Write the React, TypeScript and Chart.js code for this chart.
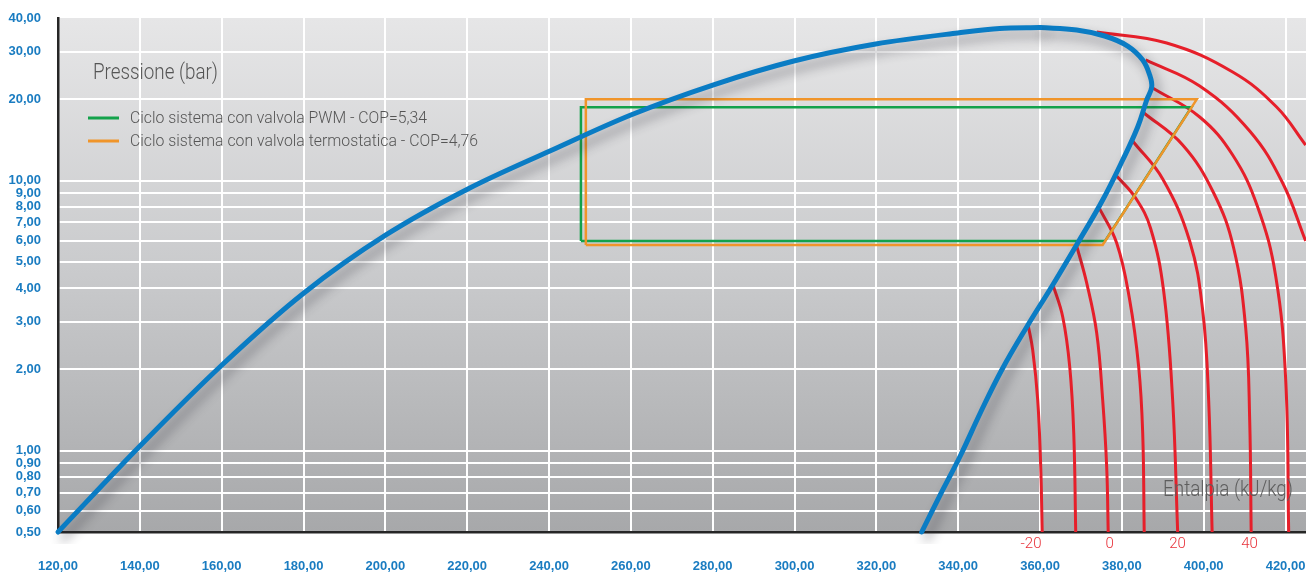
import React, { useEffect, useRef } from "react";
import { Chart, registerables } from "chart.js";

Chart.register(...registerables);

// ---------- data ----------
const xTicks = [120, 140, 160, 180, 200, 220, 240, 260, 280, 300, 320, 340, 360, 380, 400, 420];
const yTicks = [0.5, 0.6, 0.7, 0.8, 0.9, 1, 2, 3, 4, 5, 6, 7, 8, 9, 10, 20, 30, 40];

// saturation dome (enthalpy kJ/kg, pressure bar): liquid side up to the top
const liquidH = [120, 140.03, 160.07, 180.1, 200.14, 220.17, 240.21, 259.99, 280.03, 299.82, 319.85, 339.89, 350.15, 359.92];
const liquidP = [0.5, 1.041, 2.077, 3.837, 6.291, 9.31, 12.87, 17.5, 22.59, 27.73, 32.05, 35.2, 36.58, 36.89];
// from the top, round the right tip, down the vapour side
const vapourH = [359.92, 368.96, 375.8, 381.42, 385.09, 386.8, 387.29, 386.07, 383.87, 380.2, 375.31, 369.21, 363.1, 356.75, 350.64, 345.51, 340.62, 335.73, 331.09];
const vapourP = [36.89, 36.12, 34.31, 31.5, 27.97, 24.6, 22.21, 19.88, 15.79, 11.92, 8.478, 5.875, 4.108, 2.872, 1.99, 1.391, 0.9642, 0.6916, 0.5];

// cycle with PWM valve
const pwmLabel = "Ciclo sistema con valvola PWM - COP=5,34";
const pwmH = [247.8, 247.8, 397.0, 375.9, 247.8];
const pwmP = [5.98, 18.7, 18.7, 5.98, 5.98];

// cycle with thermostatic valve
const tevLabel = "Ciclo sistema con valvola termostatica - COP=4,76";
const tevH = [249.0, 249.0, 398.3, 375.3, 249.0];
const tevP = [5.78, 20.0, 20.0, 5.78, 5.78];

// isotherms (°C)
const isoTemps = [-20, -10, 0, 10, 20, 30, 40, 50, 60, 70];
const isoH = [
  [356.99, 358.21, 359.43, 360.17, 360.53],
  [363.1, 365.55, 367.26, 368.24, 368.72],
  [368.96, 371.4, 373.85, 375.31, 376.29, 376.66],
  [374.33, 378.73, 381.91, 384.11, 385.09, 385.46],
  [378.73, 383.37, 387.03, 390.21, 392.41, 393.64],
  [382.64, 389.98, 396.57, 399.74, 401.21, 402.06],
  [385.09, 394.86, 402.44, 407.32, 410.26, 411.24, 411.6],
  [387.53, 399.02, 407.08, 413.19, 417.59, 420.03, 420.77],
  [385.82, 399.02, 411.24, 419.3, 424.92],
  [373.85, 390.95, 407.08, 417.82, 424.92],
];
const isoP = [
  [2.971, 2.36, 1.541, 0.87, 0.5],
  [4.143, 3.127, 2.042, 1.163, 0.5],
  [5.727, 4.18, 2.729, 1.541, 0.87, 0.5],
  [7.99, 5.875, 3.614, 2.042, 1.163, 0.5],
  [10.4, 8.62, 6.65, 3.9, 1.541, 0.5],
  [14.02, 10.14, 5.976, 3.319, 1.541, 0.5],
  [17.95, 13.55, 9.0, 5.629, 2.847, 1.299, 0.5],
  [22.03, 17.2, 12.44, 7.99, 4.436, 1.843, 0.5],
  [27.97, 22.4, 15.27, 9.8, 5.976],
  [35.5, 32.32, 25.24, 18.73, 13.55],
];
const isoLabelText = ["-20", "0", "20", "40"];
const isoLabelH = [357.8, 377.0, 393.6, 411.2];

const yTitle = "Pressione (bar)";
const xTitle = "Entalpia (kJ/kg)";

// ---------- styles ----------
const BLUE = "#0a7cc4";
const RED = "#e61f2a";
const GREEN = "#13a24b";
const ORANGE = "#f0952a";
const TICK_BLUE = "#1a7cc1";
const TICK_FONT = "'Liberation Sans', Arial, sans-serif";
const TEXT_FONT = "Roboto, 'DejaVu Sans Condensed', sans-serif";

const zip = (hs: number[], ps: number[]) => hs.map((h, i) => ({ x: h, y: ps[i] }));
const fmt = (v: number) => v.toFixed(2).replace(".", ",");

function drawText(ctx: CanvasRenderingContext2D, text: string, x: number, y: number, targetW?: number, align: CanvasTextAlign = "left") {
  const w = ctx.measureText(text).width;
  const sx = targetW ? targetW / w : 1;
  ctx.save();
  ctx.translate(x, y);
  ctx.scale(sx, 1);
  ctx.textAlign = align;
  ctx.fillText(text, 0, 0);
  ctx.restore();
}

const bgPlugin = {
  id: "bg",
  beforeDraw(chart: any) {
    const { ctx, chartArea: a } = chart;
    const g = ctx.createLinearGradient(0, a.top, 0, a.bottom);
    g.addColorStop(0, "#e6e6e7");
    g.addColorStop(0.5, "#c9cacc");
    g.addColorStop(1, "#a7a8aa");
    ctx.save();
    ctx.fillStyle = g;
    ctx.fillRect(a.left, a.top, a.right - a.left, a.bottom - a.top);
    ctx.restore();
  },
};

const shadowPlugin = {
  id: "domeShadow",
  beforeDatasetDraw(chart: any, args: any) {
    if (args.index === 0 || args.index === 1) {
      const ctx = chart.ctx;
      ctx.save();
      ctx.shadowColor = "rgba(40,40,50,0.45)";
      ctx.shadowBlur = 11;
      ctx.shadowOffsetX = 5;
      ctx.shadowOffsetY = 7;
    }
  },
  afterDatasetDraw(chart: any, args: any) {
    if (args.index === 0 || args.index === 1) chart.ctx.restore();
  },
};

const textPlugin = {
  id: "texts",
  afterDatasetsDraw(chart: any) {
    const { ctx } = chart;
    const xs = chart.scales.x;
    ctx.save();
    ctx.textBaseline = "middle";
    ctx.fillStyle = "#555555";
    ctx.font = `300 22px ${TEXT_FONT}`;
    drawText(ctx, yTitle, 93, 73, 125);
    ctx.fillStyle = "#5e5e5e";
    ctx.font = `300 22px ${TEXT_FONT}`;
    drawText(ctx, xTitle, 1163, 490, 130);
    // legend
    const byLabel = (l: string) => chart.data.datasets.find((d: any) => d.label === l);
    const items = [byLabel(pwmLabel), byLabel(tevLabel)];
    const widths = [297, 348];
    items.forEach((ds: any, i: number) => {
      const y = 118 + i * 23;
      ctx.strokeStyle = ds.borderColor;
      ctx.lineWidth = 3;
      ctx.beginPath();
      ctx.moveTo(88, y);
      ctx.lineTo(119, y);
      ctx.stroke();
      ctx.fillStyle = "#555555";
      ctx.font = `300 17px ${TEXT_FONT}`;
      drawText(ctx, ds.label, 130, y + 1, widths[i]);
    });
    // isotherm labels
    ctx.fillStyle = "#e8333b";
    ctx.font = `300 15px ${TEXT_FONT}`;
    isoLabelText.forEach((t, i) => {
      drawText(ctx, t, xs.getPixelForValue(isoLabelH[i]), 544, undefined, "center");
    });
    ctx.restore();
  },
};

export default function App() {
  const ref = useRef<HTMLCanvasElement | null>(null);

  useEffect(() => {
    document.body.style.margin = "0";
    document.documentElement.style.overflow = "hidden";
    const canvas = ref.current!;
    const domeStyle = {
      borderColor: BLUE,
      borderWidth: 5,
      borderCapStyle: "round",
      borderJoinStyle: "round",
      pointRadius: 0,
      clip: 12,
    };
    const datasets: any[] = [
      { label: "Curva del liquido saturo", data: zip(liquidH, liquidP), ...domeStyle, cubicInterpolationMode: "monotone" },
      { label: "Curva del vapore saturo", data: zip(vapourH, vapourP), ...domeStyle, tension: 0.4 },
      {
        label: tevLabel,
        data: zip(tevH, tevP),
        borderColor: ORANGE,
        borderWidth: 2.5,
        tension: 0,
        borderJoinStyle: "miter",
        pointRadius: 0,
      },
      {
        label: pwmLabel,
        data: zip(pwmH, pwmP),
        borderColor: GREEN,
        borderWidth: 2.5,
        tension: 0,
        borderJoinStyle: "miter",
        pointRadius: 0,
      },
      ...isoTemps.map((t, i) => ({
        label: `${t} °C`,
        data: zip(isoH[i], isoP[i]),
        borderColor: RED,
        borderWidth: 3,
        tension: 0.4,
        pointRadius: 0,
      })),
    ];

    const chart = new Chart(canvas, {
      type: "line",
      data: { datasets },
      options: {
        animation: false,
        responsive: false,
        maintainAspectRatio: false,
        layout: { padding: { top: 18, left: 0, right: 0, bottom: 0 } },
        plugins: { legend: { display: false }, tooltip: { enabled: false } },
        elements: { line: { fill: false } },
        scales: {
          x: {
            type: "linear",
            min: 120,
            max: 425,
            afterBuildTicks: (s: any) => {
              s.ticks = xTicks.map((v) => ({ value: v }));
            },
            afterFit: (s: any) => {
              s.height = 42;
              s.paddingLeft = 0;
              s.paddingRight = 0;
            },
            grid: {
              color: (c: any) => (c.tick && c.tick.value === 120 ? "rgba(0,0,0,0)" : "#ffffff"),
              lineWidth: 2,
              drawTicks: false,
            },
            border: { display: true, color: "#262626", width: 2.5 },
            ticks: {
              autoSkip: false,
              maxRotation: 0,
              padding: 27,
              color: TICK_BLUE,
              font: { family: TICK_FONT, size: 13, weight: "bold" },
              callback: (v: any) => fmt(Number(v)),
            },
          },
          y: {
            type: "logarithmic",
            min: 0.5,
            max: 40,
            afterBuildTicks: (s: any) => {
              s.ticks = yTicks.map((v) => ({ value: v, major: false }));
            },
            afterFit: (s: any) => {
              s.width = 58;
              s.paddingTop = 0;
              s.paddingBottom = 0;
            },
            grid: {
              color: (c: any) => (c.tick && (c.tick.value === 0.5 || c.tick.value === 40) ? "rgba(0,0,0,0)" : "#ffffff"),
              lineWidth: 2,
              drawTicks: false,
            },
            border: { display: true, color: "#262626", width: 2.5 },
            ticks: {
              autoSkip: false,
              padding: 17,
              color: TICK_BLUE,
              font: { family: TICK_FONT, size: 13, weight: "bold" },
              callback: (v: any) => fmt(Number(v)),
            },
          },
        },
      },
      plugins: [bgPlugin, shadowPlugin, textPlugin],
    } as any);

    return () => chart.destroy();
  }, []);

  return (
    <div style={{ width: 1306, height: 574 }}>
      <canvas ref={ref} width={1306} height={574} style={{ display: "block" }} />
    </div>
  );
}
